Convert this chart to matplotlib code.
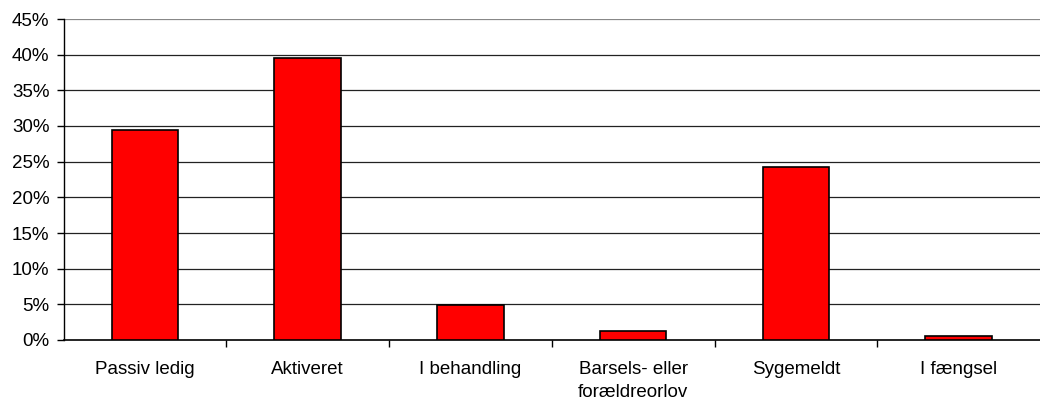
import matplotlib
matplotlib.use("Agg")
import matplotlib.pyplot as plt
from matplotlib.ticker import FuncFormatter, FixedLocator

categories = ["Passiv ledig", "Aktiveret", "I behandling", "Barsels- eller\nforældreorlov", "Sygemeldt", "I fængsel"]
values = [29.5, 39.5, 4.9, 1.3, 24.2, 0.5]
yticks = [0, 5, 10, 15, 20, 25, 30, 35, 40, 45]

plt.rcParams['font.family'] = ['Liberation Sans', 'DejaVu Sans']

fig = plt.figure(figsize=(10.4, 4.05), dpi=100)
ax = fig.add_axes([63.5/1040, 65/405, (1040-63.5)/1040, (340-19)/405])

x = list(range(len(categories)))
ax.bar(x, values, width=0.41, color='#ff0000', edgecolor='black', linewidth=1.2, zorder=3)

ax.set_xlim(-0.5, len(categories) - 0.5)
ax.set_ylim(0, 45)
ax.set_yticks(yticks)
ax.yaxis.set_major_formatter(FuncFormatter(lambda v, p: f"{int(v)}%"))
for t in yticks[1:]:
    ax.axhline(t, color='#888888' if t == 45 else '#222222', linewidth=0.9, zorder=1)

ax.set_xticks(x)
ax.set_xticklabels(categories, fontsize=13.5, linespacing=1.5)
ax.xaxis.set_minor_locator(FixedLocator([i + 0.5 for i in range(len(categories) - 1)]))
ax.tick_params(axis='x', which='major', length=0, pad=15)
ax.tick_params(axis='x', which='minor', length=5, width=1, color='black', direction='out')
ax.tick_params(axis='y', length=5, width=1, direction='out', labelsize=13.5, pad=5)

for s in ['top', 'right']:
    ax.spines[s].set_visible(False)
ax.spines['left'].set_linewidth(1)
ax.spines['bottom'].set_linewidth(1.2)

fig.savefig("out.png", dpi=100)
